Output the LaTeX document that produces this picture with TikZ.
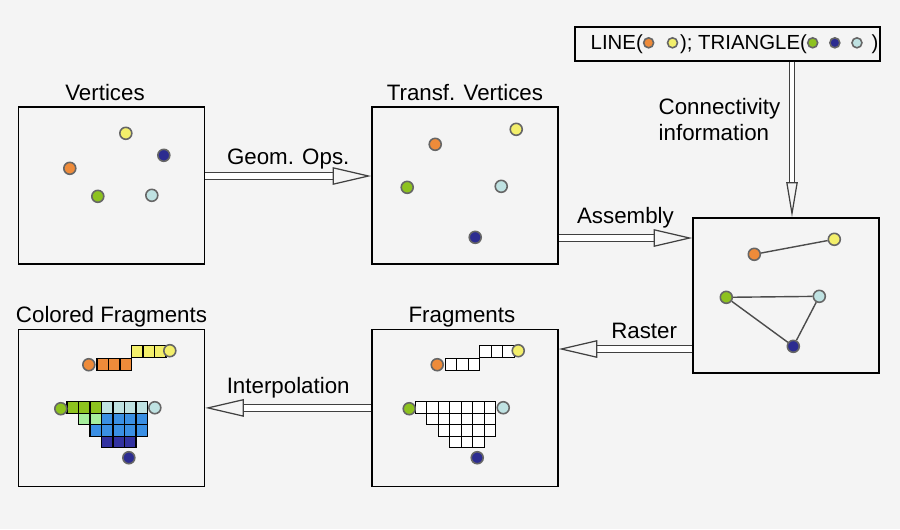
\documentclass[tikz,border=0pt]{standalone}
\usepackage{fontspec}
\setmainfont{Liberation Sans}
\usepackage{xcolor}
\definecolor{bgGray}{HTML}{F4F4F4}
\definecolor{colOrange}{HTML}{EE8B3A}
\definecolor{colYellow}{HTML}{F3EF6B}
\definecolor{colGreen}{HTML}{8DC21F}
\definecolor{colNavy}{HTML}{2C2C90}
\definecolor{colCyan}{HTML}{BFE2E2}
\definecolor{cellLime}{HTML}{A6EE9C}
\definecolor{cellBlue}{HTML}{3A8FE4}
\definecolor{cellNavy}{HTML}{3232A0}
\usetikzlibrary{arrows.meta, positioning}
\tikzset{
  panel/.style={draw, line width=0.8pt, fill=bgGray, minimum width=3.72cm, minimum height=3.14cm, inner sep=0pt},
  panel label/.style={text depth=0pt},
  vdot/.style={circle, draw=black!60, line width=0.9pt, minimum size=0.24cm, inner sep=0pt},
  cell/.style={draw=black, line width=0.8pt},
  dblarrow/.style={->, double=white, double distance=3pt, line width=0.7pt, draw=black!75},
  thin dblarrow/.style={-{Triangle[open, length=20pt, width=6.5pt]}, double=white, double distance=1.8pt, line width=0.7pt, draw=black!75},
  edgeline/.style={draw=black!70, line width=0.8pt},
}
% small dot inside the primitive list
\newcommand{\txtdot}[1]{\tikz[baseline=-0.6ex]\node[vdot, fill=#1, minimum size=0.2cm] {};}
% fragment squares: orange, yellow, green, cyan, lime, blue, navy
\newcommand{\fragcells}[7]{%
  \foreach \i in {0,1,2} {\draw[cell, fill=#1] ({74+11.5*\i},30) rectangle ++(11.5,11.5);}
  \foreach \i in {0,1,2} {\draw[cell, fill=#2] ({108.5+11.5*\i},17) rectangle ++(11.5,11.5);}
  \foreach \i in {0,1,2} {\draw[cell, fill=#3] ({44+11.5*\i},73) rectangle ++(11.5,11.5);}
  \foreach \i in {3,...,6} {\draw[cell, fill=#4] ({44+11.5*\i},73) rectangle ++(11.5,11.5);}
  \foreach \i in {0,1} {\draw[cell, fill=#5] ({55.5+11.5*\i},84.5) rectangle ++(11.5,11.5);}
  \foreach \i in {2,...,5} {\draw[cell, fill=#6] ({55.5+11.5*\i},84.5) rectangle ++(11.5,11.5);}
  \foreach \i in {0,...,4} {\draw[cell, fill=#6] ({67+11.5*\i},96) rectangle ++(11.5,11.5);}
  \foreach \i in {0,1,2} {\draw[cell, fill=#7] ({78.5+11.5*\i},107.5) rectangle ++(11.5,11.5);}
}

\begin{document}
\begin{tikzpicture}[>={Triangle[open, length=22pt, width=10pt]}, font=\fontsize{12.7}{15}\selectfont]
\fill[bgGray] (0,0) rectangle (18,-10.58);
\useasboundingbox (0,0) rectangle (18,-10.58);

% panels
\node[panel, label={[panel label, xshift=-0.13cm]above:Vertices}] (verts) at (2.23,-3.71) {};
\node[panel, right=3.32cm of verts, label={[panel label]above:Transf. Vertices}] (tverts) {};
\node[panel, minimum height=3.1cm] (asm) at (15.72,-5.91) {};
\node[panel, below=1.28cm of verts, label={[panel label]above:Colored Fragments}] (cfrags) {};
\node[panel, right=3.32cm of cfrags, label={[panel label, xshift=-0.06cm]above:Fragments}] (frags) {};
\node[draw, line width=0.8pt, fill=bgGray, minimum width=6.1cm, minimum height=0.68cm, inner sep=0pt, font=\fontsize{11.6}{14}\selectfont] (prims) at (14.55,-0.88)
  {\hspace{8pt}LINE(\txtdot{colOrange}\hspace{7pt}\txtdot{colYellow}\hspace{1pt}); TRIANGLE(\txtdot{colGreen}\hspace{6pt}\txtdot{colNavy}\hspace{6pt}\txtdot{colCyan}\hspace{5pt})};

% vertices
\begin{scope}[shift={(verts.north west)}, x=0.02cm, y=-0.02cm]
\node[vdot, fill=colYellow] (vy) at (108,27) {};
\node[vdot, fill=colNavy] (vn) at (146,49) {};
\node[vdot, fill=colOrange] (vo) at (52,62) {};
\node[vdot, fill=colGreen] (vg) at (80,90) {};
\node[vdot, fill=colCyan] (vc) at (134,89) {};
\end{scope}

% transformed vertices
\begin{scope}[shift={(tverts.north west)}, x=0.02cm, y=-0.02cm]
\node[vdot, fill=colOrange] (to) at (64,38) {};
\node[vdot, fill=colYellow] (ty) at (145,23) {};
\node[vdot, fill=colGreen] (tg) at (36,81) {};
\node[vdot, fill=colCyan] (tc) at (130,80) {};
\node[vdot, fill=colNavy] (tn) at (104,131) {};
\end{scope}

% assembled primitives
\begin{scope}[shift={(asm.north west)}, x=0.02cm, y=-0.02cm]
\node[vdot, fill=colOrange] (ao) at (62,37) {};
\node[vdot, fill=colYellow] (ay) at (142,22) {};
\node[vdot, fill=colGreen] (ag) at (34,80) {};
\node[vdot, fill=colCyan] (ac) at (127,79) {};
\node[vdot, fill=colNavy] (an) at (101,129) {};
\draw[edgeline] (ao) -- (ay);
\draw[edgeline] (ag) -- (ac) -- (an) -- (ag);
\end{scope}

% fragments
\begin{scope}[shift={(frags.north west)}, x=0.02cm, y=-0.02cm]
\fragcells{white}{white}{white}{white}{white}{white}{white}
\node[vdot, fill=colOrange] (fo) at (66,36) {};
\node[vdot, fill=colYellow] (fy) at (147,22) {};
\node[vdot, fill=colGreen] (fg) at (38,80) {};
\node[vdot, fill=colCyan] (fc) at (132,79) {};
\node[vdot, fill=colNavy] (fn) at (106,129) {};
\end{scope}

% colored fragments
\begin{scope}[shift={([xshift=0.1cm]cfrags.north west)}, x=0.02cm, y=-0.02cm]
\fragcells{colOrange}{colYellow}{colGreen}{colCyan}{cellLime}{cellBlue}{cellNavy}
\node[vdot, fill=colOrange] (co) at (66,36) {};
\node[vdot, fill=colYellow] (cy) at (147,22) {};
\node[vdot, fill=colGreen] (cg) at (38,80) {};
\node[vdot, fill=colCyan] (cc) at (132,79) {};
\node[vdot, fill=colNavy] (cn) at (106,129) {};
\end{scope}

% pipeline arrows
\draw[dblarrow] ([yshift=0.19cm]verts.east) -- node[above] {Geom. Ops.} ([yshift=0.19cm]tverts.west);
\coordinate (asmin) at ([yshift=1.15cm]asm.west);
\draw[dblarrow] (tverts.east |- asmin) -- node[above=2pt] {Assembly} (asmin);
\coordinate (rasout) at ([yshift=-1.07cm]asm.west);
\draw[dblarrow] (rasout) -- node[pos=0.36, above=2pt] {Raster} (frags.east |- rasout);
\draw[dblarrow] (frags.west) -- node[above=2pt] {Interpolation} (cfrags.east);
\coordinate (conin) at ([xshift=0.12cm]asm.north);
\draw[thin dblarrow] (conin |- prims.south) -- node[pos=0.37, left=3pt, align=left] {Connectivity\\information} (conin);
\end{tikzpicture}
\end{document}
